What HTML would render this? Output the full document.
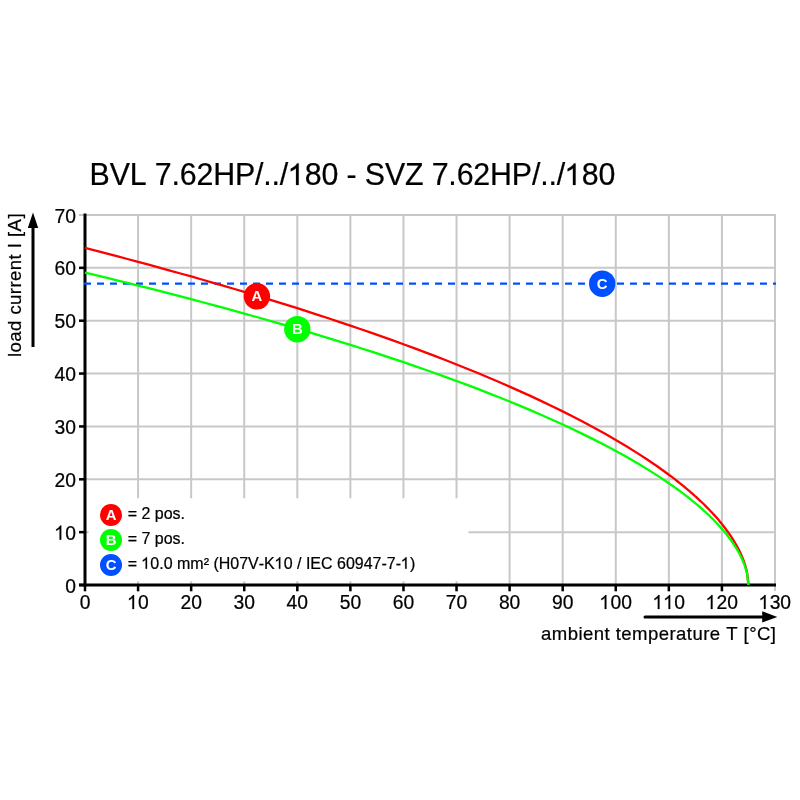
<!DOCTYPE html>
<html><head><meta charset="utf-8"><style>
html,body{margin:0;padding:0;background:#fff;width:800px;height:800px;overflow:hidden}
svg{display:block;will-change:transform}
text{font-family:"Liberation Sans",sans-serif;font-kerning:none;fill:#000;stroke:#000;stroke-width:0.22px}
.one path{fill:#000;stroke:#000;stroke-width:0.22px}
</style></head><body>
<svg width="800" height="800" viewBox="0 0 800 800">
<rect width="800" height="800" fill="#fff"/>
<text transform="translate(89.58,185.00) scale(1,1.02)" id="t23" font-size="30.35" letter-spacing="-0.15">BVL 7.62HP/../ 80 - SVZ 7.62HP/../ 80</text><g class="one" transform="translate(89.58,185.00) scale(1,1.02)"><path transform="translate(198.552,0) scale(0.014819,-0.014819)" d="M713 0H533V1114Q468 1054 362 994Q257 934 173 903V1072Q324 1141 437 1239Q550 1337 597 1430H713Z" vector-effect="non-scaling-stroke"/><path transform="translate(475.456,0) scale(0.014819,-0.014819)" d="M713 0H533V1114Q468 1054 362 994Q257 934 173 903V1072Q324 1141 437 1239Q550 1337 597 1430H713Z" vector-effect="non-scaling-stroke"/></g>
<g stroke="#c8c8c8" stroke-width="2"><line x1="138.08" y1="215" x2="138.08" y2="591"/><line x1="191.15" y1="215" x2="191.15" y2="591"/><line x1="244.23" y1="215" x2="244.23" y2="591"/><line x1="297.31" y1="215" x2="297.31" y2="591"/><line x1="350.38" y1="215" x2="350.38" y2="591"/><line x1="403.46" y1="215" x2="403.46" y2="591"/><line x1="456.54" y1="215" x2="456.54" y2="591"/><line x1="509.62" y1="215" x2="509.62" y2="591"/><line x1="562.69" y1="215" x2="562.69" y2="591"/><line x1="615.77" y1="215" x2="615.77" y2="591"/><line x1="668.85" y1="215" x2="668.85" y2="591"/><line x1="721.92" y1="215" x2="721.92" y2="591"/><line x1="775.00" y1="215" x2="775.00" y2="591"/><line x1="79" y1="532.14" x2="776" y2="532.14"/><line x1="79" y1="479.29" x2="776" y2="479.29"/><line x1="79" y1="426.43" x2="776" y2="426.43"/><line x1="79" y1="373.57" x2="776" y2="373.57"/><line x1="79" y1="320.71" x2="776" y2="320.71"/><line x1="79" y1="267.86" x2="776" y2="267.86"/><line x1="79" y1="215.00" x2="776" y2="215.00"/></g>
<rect x="88.6" y="498.3" width="379.9" height="83" fill="#fff"/>
<g stroke="#000" stroke-width="2.5"><line x1="85.00" y1="585" x2="85.00" y2="591.3"/><line x1="138.08" y1="585" x2="138.08" y2="591.3"/><line x1="191.15" y1="585" x2="191.15" y2="591.3"/><line x1="244.23" y1="585" x2="244.23" y2="591.3"/><line x1="297.31" y1="585" x2="297.31" y2="591.3"/><line x1="350.38" y1="585" x2="350.38" y2="591.3"/><line x1="403.46" y1="585" x2="403.46" y2="591.3"/><line x1="456.54" y1="585" x2="456.54" y2="591.3"/><line x1="509.62" y1="585" x2="509.62" y2="591.3"/><line x1="562.69" y1="585" x2="562.69" y2="591.3"/><line x1="615.77" y1="585" x2="615.77" y2="591.3"/><line x1="668.85" y1="585" x2="668.85" y2="591.3"/><line x1="721.92" y1="585" x2="721.92" y2="591.3"/><line x1="79" y1="585.00" x2="85" y2="585.00"/><line x1="79" y1="532.14" x2="85" y2="532.14"/><line x1="79" y1="479.29" x2="85" y2="479.29"/><line x1="79" y1="426.43" x2="85" y2="426.43"/><line x1="79" y1="373.57" x2="85" y2="373.57"/><line x1="79" y1="320.71" x2="85" y2="320.71"/><line x1="79" y1="267.86" x2="85" y2="267.86"/></g>
<line x1="85" y1="213.5" x2="85" y2="586.5" stroke="#000" stroke-width="3"/>
<line x1="79" y1="585" x2="776" y2="585" stroke="#000" stroke-width="3"/>
<text transform="translate(85.00,609.00) scale(1,1.04)" id="t1" font-size="19.3" text-anchor="middle">0</text><text transform="translate(138.08,609.00) scale(1,1.04)" id="t2" font-size="19.3" text-anchor="middle"> 0</text><g class="one" transform="translate(138.08,609.00) scale(1,1.04)"><path transform="translate(-10.729,0) scale(0.009424,-0.009424)" d="M713 0H533V1114Q468 1054 362 994Q257 934 173 903V1072Q324 1141 437 1239Q550 1337 597 1430H713Z" vector-effect="non-scaling-stroke"/></g><text transform="translate(191.15,609.00) scale(1,1.04)" id="t3" font-size="19.3" text-anchor="middle">20</text><text transform="translate(244.23,609.00) scale(1,1.04)" id="t4" font-size="19.3" text-anchor="middle">30</text><text transform="translate(297.31,609.00) scale(1,1.04)" id="t5" font-size="19.3" text-anchor="middle">40</text><text transform="translate(350.38,609.00) scale(1,1.04)" id="t6" font-size="19.3" text-anchor="middle">50</text><text transform="translate(403.46,609.00) scale(1,1.04)" id="t7" font-size="19.3" text-anchor="middle">60</text><text transform="translate(456.54,609.00) scale(1,1.04)" id="t8" font-size="19.3" text-anchor="middle">70</text><text transform="translate(509.62,609.00) scale(1,1.04)" id="t9" font-size="19.3" text-anchor="middle">80</text><text transform="translate(562.69,609.00) scale(1,1.04)" id="t10" font-size="19.3" text-anchor="middle">90</text><text transform="translate(615.77,609.00) scale(1,1.04)" id="t11" font-size="19.3" text-anchor="middle"> 00</text><g class="one" transform="translate(615.77,609.00) scale(1,1.04)"><path transform="translate(-16.089,0) scale(0.009424,-0.009424)" d="M713 0H533V1114Q468 1054 362 994Q257 934 173 903V1072Q324 1141 437 1239Q550 1337 597 1430H713Z" vector-effect="non-scaling-stroke"/></g><text transform="translate(668.85,609.00) scale(1,1.04)" id="t12" font-size="19.3" text-anchor="middle">  0</text><g class="one" transform="translate(668.85,609.00) scale(1,1.04)"><path transform="translate(-16.089,0) scale(0.009424,-0.009424)" d="M713 0H533V1114Q468 1054 362 994Q257 934 173 903V1072Q324 1141 437 1239Q550 1337 597 1430H713Z" vector-effect="non-scaling-stroke"/><path transform="translate(-5.368,0) scale(0.009424,-0.009424)" d="M713 0H533V1114Q468 1054 362 994Q257 934 173 903V1072Q324 1141 437 1239Q550 1337 597 1430H713Z" vector-effect="non-scaling-stroke"/></g><text transform="translate(721.92,609.00) scale(1,1.04)" id="t13" font-size="19.3" text-anchor="middle"> 20</text><g class="one" transform="translate(721.92,609.00) scale(1,1.04)"><path transform="translate(-16.089,0) scale(0.009424,-0.009424)" d="M713 0H533V1114Q468 1054 362 994Q257 934 173 903V1072Q324 1141 437 1239Q550 1337 597 1430H713Z" vector-effect="non-scaling-stroke"/></g><text transform="translate(775.00,609.00) scale(1,1.04)" id="t14" font-size="19.3" text-anchor="middle"> 30</text><g class="one" transform="translate(775.00,609.00) scale(1,1.04)"><path transform="translate(-16.089,0) scale(0.009424,-0.009424)" d="M713 0H533V1114Q468 1054 362 994Q257 934 173 903V1072Q324 1141 437 1239Q550 1337 597 1430H713Z" vector-effect="non-scaling-stroke"/></g><text transform="translate(76.00,592.50) scale(1,1.04)" id="t15" font-size="19.3" text-anchor="end">0</text><text transform="translate(76.00,539.64) scale(1,1.04)" id="t16" font-size="19.3" text-anchor="end"> 0</text><g class="one" transform="translate(76.00,539.64) scale(1,1.04)"><path transform="translate(-21.457,0) scale(0.009424,-0.009424)" d="M713 0H533V1114Q468 1054 362 994Q257 934 173 903V1072Q324 1141 437 1239Q550 1337 597 1430H713Z" vector-effect="non-scaling-stroke"/></g><text transform="translate(76.00,486.79) scale(1,1.04)" id="t17" font-size="19.3" text-anchor="end">20</text><text transform="translate(76.00,433.93) scale(1,1.04)" id="t18" font-size="19.3" text-anchor="end">30</text><text transform="translate(76.00,381.07) scale(1,1.04)" id="t19" font-size="19.3" text-anchor="end">40</text><text transform="translate(76.00,328.21) scale(1,1.04)" id="t20" font-size="19.3" text-anchor="end">50</text><text transform="translate(76.00,275.36) scale(1,1.04)" id="t21" font-size="19.3" text-anchor="end">60</text><text transform="translate(76.00,222.50) scale(1,1.04)" id="t22" font-size="19.3" text-anchor="end">70</text>
<line x1="84" y1="283.7" x2="776" y2="283.7" stroke="#0050ff" stroke-width="2.2" stroke-dasharray="7 6"/>
<polyline points="85.00,247.93 95.62,250.66 106.23,253.42 116.85,256.20 127.46,259.01 138.08,261.85 148.69,264.72 159.31,267.61 169.92,270.54 180.54,273.49 191.15,276.48 201.77,279.49 212.38,282.54 223.00,285.62 233.62,288.74 244.23,291.89 254.85,295.08 265.46,298.31 276.08,301.57 286.69,304.88 297.31,308.22 307.92,311.61 318.54,315.04 329.15,318.52 339.77,322.04 350.38,325.61 361.00,329.23 371.62,332.91 382.23,336.63 392.85,340.42 403.46,344.26 414.08,348.17 424.69,352.14 435.31,356.17 445.92,360.28 456.54,364.46 467.15,368.72 477.77,373.06 488.38,377.49 499.00,382.00 509.62,386.62 520.23,391.33 530.85,396.16 541.46,401.11 552.08,406.18 562.69,411.39 573.31,416.74 583.92,422.25 594.54,427.94 605.15,433.83 615.77,439.92 626.38,446.26 637.00,452.86 647.62,459.77 658.23,467.03 668.85,474.71 671.50,476.70 672.80,477.70 674.11,478.70 675.41,479.70 676.72,480.72 678.02,481.75 679.33,482.78 680.63,483.82 681.94,484.88 683.24,485.94 684.54,487.01 685.85,488.10 687.15,489.19 688.46,490.29 689.76,491.41 691.07,492.54 692.37,493.68 693.68,494.83 694.98,495.99 696.28,497.17 697.59,498.36 698.89,499.57 700.20,500.79 701.50,502.03 702.81,503.28 704.11,504.55 705.42,505.83 706.72,507.14 708.02,508.46 709.33,509.81 710.63,511.17 711.94,512.56 713.24,513.97 714.55,515.40 715.85,516.86 717.16,518.35 718.46,519.87 719.76,521.41 721.07,523.00 722.37,524.61 723.68,526.26 724.98,527.96 726.29,529.69 727.59,531.48 728.90,533.32 730.20,535.21 731.50,537.17 732.81,539.20 734.11,541.31 735.42,543.51 736.72,545.81 738.03,548.23 739.33,550.80 740.63,553.54 741.94,556.50 743.24,559.75 744.55,563.40 745.85,567.66 747.16,573.09 748.46,585.00" fill="none" stroke="#ff0000" stroke-width="2.3"/>
<polyline points="85.00,272.61 95.62,275.16 106.23,277.73 116.85,280.32 127.46,282.93 138.08,285.57 148.69,288.24 159.31,290.94 169.92,293.66 180.54,296.41 191.15,299.18 201.77,301.99 212.38,304.83 223.00,307.69 233.62,310.59 244.23,313.53 254.85,316.49 265.46,319.49 276.08,322.53 286.69,325.60 297.31,328.71 307.92,331.86 318.54,335.05 329.15,338.28 339.77,341.55 350.38,344.87 361.00,348.24 371.62,351.65 382.23,355.12 392.85,358.64 403.46,362.21 414.08,365.84 424.69,369.52 435.31,373.27 445.92,377.09 456.54,380.97 467.15,384.92 477.77,388.95 488.38,393.06 499.00,397.26 509.62,401.54 520.23,405.92 530.85,410.40 541.46,414.99 552.08,419.69 562.69,424.52 573.31,429.49 583.92,434.61 594.54,439.88 605.15,445.34 615.77,450.99 626.38,456.86 637.00,462.98 647.62,469.38 658.23,476.11 668.85,483.22 671.50,485.07 672.80,485.98 674.11,486.91 675.41,487.84 676.72,488.79 678.02,489.73 679.33,490.69 680.63,491.66 681.94,492.63 683.24,493.62 684.54,494.61 685.85,495.61 687.15,496.62 688.46,497.65 689.76,498.68 691.07,499.72 692.37,500.78 693.68,501.84 694.98,502.92 696.28,504.01 697.59,505.11 698.89,506.23 700.20,507.36 701.50,508.50 702.81,509.66 704.11,510.83 705.42,512.02 706.72,513.23 708.02,514.46 709.33,515.70 710.63,516.96 711.94,518.24 713.24,519.55 714.55,520.87 715.85,522.22 717.16,523.60 718.46,525.00 719.76,526.43 721.07,527.89 722.37,529.38 723.68,530.91 724.98,532.48 726.29,534.08 727.59,535.73 728.90,537.43 730.20,539.18 731.50,540.99 732.81,542.86 734.11,544.81 735.42,546.84 736.72,548.96 738.03,551.20 739.33,553.56 740.63,556.09 741.94,558.82 743.24,561.81 744.55,565.17 745.85,569.10 747.16,574.09 748.46,585.00" fill="none" stroke="#00ff00" stroke-width="2.3"/>
<circle cx="256.9" cy="296.3" r="13.2" fill="#ff0000"/><text transform="translate(256.90,301.35) scale(1,1.03)" id="t24" font-size="14.9" text-anchor="middle" font-weight="bold" style="fill:#fff;stroke:none">A</text>
<circle cx="297.3" cy="329.2" r="13.2" fill="#00ff00"/><text transform="translate(297.30,334.25) scale(1,1.03)" id="t25" font-size="14.9" text-anchor="middle" font-weight="bold" style="fill:#fff;stroke:none">B</text>
<circle cx="602.2" cy="283.7" r="13.2" fill="#0050ff"/><text transform="translate(602.20,288.75) scale(1,1.03)" id="t26" font-size="14.9" text-anchor="middle" font-weight="bold" style="fill:#fff;stroke:none">C</text>
<circle cx="111" cy="515" r="11" fill="#ff0000"/><text transform="translate(111.00,520.05) scale(1,1.03)" id="t27" font-size="14.9" text-anchor="middle" font-weight="bold" style="fill:#fff;stroke:none">A</text>
<circle cx="111" cy="540" r="11" fill="#00ff00"/><text transform="translate(111.00,545.05) scale(1,1.03)" id="t28" font-size="14.9" text-anchor="middle" font-weight="bold" style="fill:#fff;stroke:none">B</text>
<circle cx="111" cy="565" r="11" fill="#0050ff"/><text transform="translate(111.00,570.05) scale(1,1.03)" id="t29" font-size="14.9" text-anchor="middle" font-weight="bold" style="fill:#fff;stroke:none">C</text>
<text transform="translate(127.68,518.70) scale(1,1.03)" id="t30" font-size="16.0">= 2 pos.</text>
<text transform="translate(127.68,543.70) scale(1,1.03)" id="t31" font-size="16.0">= 7 pos.</text>
<text transform="translate(127.68,568.70) scale(1,1.03)" id="t32" font-size="16.0">=  0.0 mm² (H07V-K 0 / IEC 60947-7- )</text><g class="one" transform="translate(127.68,568.70) scale(1,1.03)"><path transform="translate(13.776,0) scale(0.007812,-0.007812)" d="M713 0H533V1114Q468 1054 362 994Q257 934 173 903V1072Q324 1141 437 1239Q550 1337 597 1430H713Z" vector-effect="non-scaling-stroke"/><path transform="translate(147.074,0) scale(0.007812,-0.007812)" d="M713 0H533V1114Q468 1054 362 994Q257 934 173 903V1072Q324 1141 437 1239Q550 1337 597 1430H713Z" vector-effect="non-scaling-stroke"/><path transform="translate(273.323,0) scale(0.007812,-0.007812)" d="M713 0H533V1114Q468 1054 362 994Q257 934 173 903V1072Q324 1141 437 1239Q550 1337 597 1430H713Z" vector-effect="non-scaling-stroke"/></g>
<text transform="translate(541.04,639.75) scale(1,1.02)" id="t33" font-size="18.55" letter-spacing="0.45">ambient temperature T [°C]</text>
<line x1="645" y1="616.9" x2="764" y2="616.9" stroke="#000" stroke-width="3" stroke-linecap="round"/>
<polygon points="762.2,611.3 777.3,616.9 762.2,622.5" fill="#000"/>
<text transform="translate(21.00,357.05) rotate(-90) scale(1,1.02)" id="t34" font-size="18.55" letter-spacing="0.45">load current I [A]</text>
<line x1="33" y1="347" x2="33" y2="226" stroke="#000" stroke-width="3"/>
<polygon points="27.8,228 33,212.5 38.2,228" fill="#000"/>
</svg>
</body></html>
